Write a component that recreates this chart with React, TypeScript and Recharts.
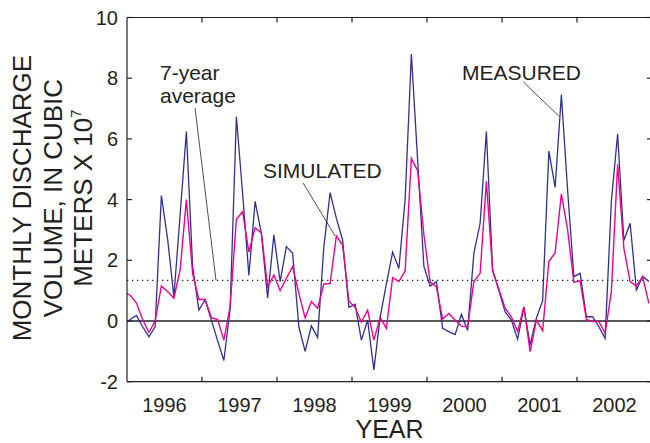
import React from 'react';
import { LineChart, Line, XAxis, YAxis, ReferenceLine, ReferenceDot } from 'recharts';

const YEARS = ['1996', '1997', '1998', '1999', '2000', '2001', '2002'];

// monthly discharge volume, x 10^7 m3, Dec 1995 through Dec 2002
const MEASURED = [
  -0.1,
  0.05, 0.18, -0.19, -0.52, -0.19, 4.13, 2.7, 0.8, 3.5, 6.24, 1.8, 0.36,
  0.7, 0.03, -0.65, -1.3, 0.4, 6.73, 4.2, 1.5, 3.94, 2.89, 0.76, 2.84,
  1.3, 2.45, 2.23, -0.19, -1.0, -0.16, -0.54, 2.45, 4.23, 3.38, 2.67, 0.45,
  0.55, -0.63, 0.03, -1.61, 0.12, 1.22, 2.27, 1.73, 4.0, 8.8, 5.3, 1.8,
  1.15, 1.3, -0.24, -0.35, -0.45, 0.22, -0.31, 2.23, 3.22, 6.24, 1.68, 1.0,
  0.3, 0.03, -0.6, 0.45, -0.79, 0.09, 0.67, 5.6, 4.4, 7.45, 4.3, 1.46,
  1.57, 0.14, 0.14, -0.19, -0.57, 3.95, 6.16, 2.65, 3.22, 1.02, 1.47, 1.3,
];

const SIMULATED = [
  0.95,
  0.85, 0.6, 0.05, -0.38, 0.0, 1.15, 0.97, 0.75, 1.68, 4.0, 1.57, 0.71,
  0.71, 0.11, 0.05, -0.63, 0.47, 3.35, 3.6, 2.27, 3.07, 2.9, 1.12, 1.52,
  1.0, 1.41, 1.79, 0.91, 0.1, 0.64, 0.42, 1.22, 1.24, 2.8, 2.5, 0.65,
  0.45, -0.04, 0.36, -0.63, 0.12, -0.24, 1.43, 1.3, 1.65, 5.36, 4.95, 2.85,
  1.28, 1.13, 0.07, 0.25, 0.03, -0.17, -0.19, 1.3, 1.57, 4.6, 1.65, 1.05,
  0.42, 0.14, -0.35, 0.47, -1.01, 0.03, -0.32, 1.96, 2.25, 4.19, 3.0, 1.27,
  1.32, 0.05, -0.02, -0.02, -0.4, 0.97, 5.16, 2.4, 1.3, 1.15, 1.46, 0.58,
];

const SEVEN_YEAR_AVERAGE = 1.34;
const Y_TICKS = [-2, 0, 2, 4, 6, 8, 10];

const data = MEASURED.map((m, i) => ({ t: i - 0.5, measured: m, simulated: SIMULATED[i] }));
// year labels sit mid-year, tick marks on the year boundaries
const xTicks = YEARS.flatMap((_, k) => (k === 0 ? [6] : [12 * k, 12 * k + 6]));

const INK = '#231f20';
const FONT = '"Liberation Sans", Arial, Helvetica, sans-serif';

// plot box (chart is 660 wide, margins below)
const TOP = 17.5;
const X_AXIS_H = 61.3;
const BOTTOM = 443 - X_AXIS_H;
const LEFT = 127;
const RIGHT = 652;
const TICK = 5;

const XTick = (props: any) => {
  const { x, y, payload } = props;
  const v = payload.value;
  if (v % 12 === 0) {
    return (
      <g stroke={INK} strokeWidth={1.2}>
        <line x1={x} x2={x} y1={BOTTOM} y2={BOTTOM - TICK} />
        <line x1={x} x2={x} y1={TOP} y2={TOP + TICK} />
      </g>
    );
  }
  return (
    <text x={x} y={y} dy="0.71em" textAnchor="middle" fontSize={20} fill={INK} fontFamily={FONT}>
      {YEARS[(v - 6) / 12]}
    </text>
  );
};

const YTick = (props: any) => {
  const { x, y, payload } = props;
  return (
    <g>
      <line x1={LEFT} x2={LEFT + TICK} y1={y} y2={y} stroke={INK} strokeWidth={1.2} />
      <line x1={RIGHT - TICK} x2={RIGHT} y1={y} y2={y} stroke={INK} strokeWidth={1.2} />
      <text x={x} y={y} dy="0.355em" textAnchor="end" fontSize={20} fill={INK} fontFamily={FONT}>
        {payload.value}
      </text>
    </g>
  );
};

const YTitle = (props: any) => {
  const { viewBox } = props;
  const cy = viewBox.y + viewBox.height / 2 - 1.5;
  const lines = [
    { x: 31, text: 'MONTHLY DISCHARGE' },
    { x: 61.5, text: 'VOLUME, IN CUBIC' },
  ];
  return (
    <g fill={INK} fontSize={26} fontFamily={FONT}>
      {lines.map((l) => (
        <text key={l.x} transform={`translate(${l.x},${cy}) rotate(-90)`} textAnchor="middle">
          {l.text}
        </text>
      ))}
      <text transform={`translate(92,${cy}) rotate(-90)`} textAnchor="middle">
        <tspan>METERS X 10</tspan>
        <tspan dy={-11} fontSize={15}>7</tspan>
      </text>
    </g>
  );
};

const note = (value: string) => ({ value, position: 'right' as const, offset: 0, fontSize: 21, fill: INK, fontFamily: FONT });

export default function App() {
  return (
    <div style={{ position: 'absolute', left: 0, top: 0, width: 650, height: 443, overflow: 'hidden', background: '#fff', fontFamily: FONT }}>
      <LineChart width={660} height={443} data={data} margin={{ top: TOP, right: 660 - RIGHT, bottom: 0, left: 0 }}>
        <XAxis
          xAxisId="x"
          dataKey="t"
          type="number"
          domain={[0, 84]}
          allowDataOverflow
          ticks={xTicks}
          interval={0}
          tickLine={false}
          tickSize={0}
          tickMargin={16}
          axisLine={{ stroke: INK, strokeWidth: 1.2 }}
          tick={<XTick />}
          height={X_AXIS_H}
          label={{ value: 'YEAR', position: 'insideBottom', offset: 5, fontSize: 25, fill: INK, fontFamily: FONT }}
        />
        <XAxis
          xAxisId="xt"
          type="number"
          orientation="top"
          mirror
          domain={[0, 84]}
          allowDataOverflow
          tick={false}
          tickLine={false}
          axisLine={{ stroke: INK, strokeWidth: 1.2 }}
          height={1}
        />
        <YAxis
          yAxisId="y"
          type="number"
          domain={[-2, 10]}
          allowDataOverflow
          ticks={Y_TICKS}
          interval={0}
          tickLine={false}
          tickSize={0}
          tickMargin={9}
          axisLine={{ stroke: INK, strokeWidth: 1.2 }}
          tick={<YTick />}
          width={LEFT}
          label={{ content: (p: any) => <YTitle {...p} /> }}
        />
        <ReferenceLine xAxisId="x" yAxisId="y" y={0} stroke={INK} strokeWidth={1.3} />
        <ReferenceLine xAxisId="x" yAxisId="y" y={SEVEN_YEAR_AVERAGE} stroke={INK} strokeWidth={1.3} strokeDasharray="1.3 3.7" />
        <Line xAxisId="x" yAxisId="y" dataKey="measured" stroke="#2e3192" strokeWidth={1.3} dot={false} activeDot={false} isAnimationActive={false} />
        <Line xAxisId="x" yAxisId="y" dataKey="simulated" stroke="#ec008c" strokeWidth={1.4} dot={false} activeDot={false} isAnimationActive={false} />
        <ReferenceLine xAxisId="x" yAxisId="y" segment={[{ x: 10.88, y: 7.02 }, { x: 14.24, y: SEVEN_YEAR_AVERAGE }]} stroke={INK} strokeWidth={0.8} />
        <ReferenceLine xAxisId="x" yAxisId="y" segment={[{ x: 28.2, y: 4.54 }, { x: 33.3, y: 2.8 }]} stroke={INK} strokeWidth={0.8} />
        <ReferenceLine xAxisId="x" yAxisId="y" segment={[{ x: 63.4, y: 7.88 }, { x: 69.1, y: 6.75 }]} stroke={INK} strokeWidth={0.8} />
        <ReferenceDot xAxisId="x" yAxisId="y" x={5.28} y={8.19} r={0} fill="none" stroke="none" label={note('7-year')} />
        <ReferenceDot xAxisId="x" yAxisId="y" x={5.28} y={7.43} r={0} fill="none" stroke="none" label={note('average')} />
        <ReferenceDot xAxisId="x" yAxisId="y" x={21.76} y={4.96} r={0} fill="none" stroke="none" label={note('SIMULATED')} />
        <ReferenceDot xAxisId="x" yAxisId="y" x={53.6} y={8.19} r={0} fill="none" stroke="none" label={note('MEASURED')} />
      </LineChart>
    </div>
  );
}
